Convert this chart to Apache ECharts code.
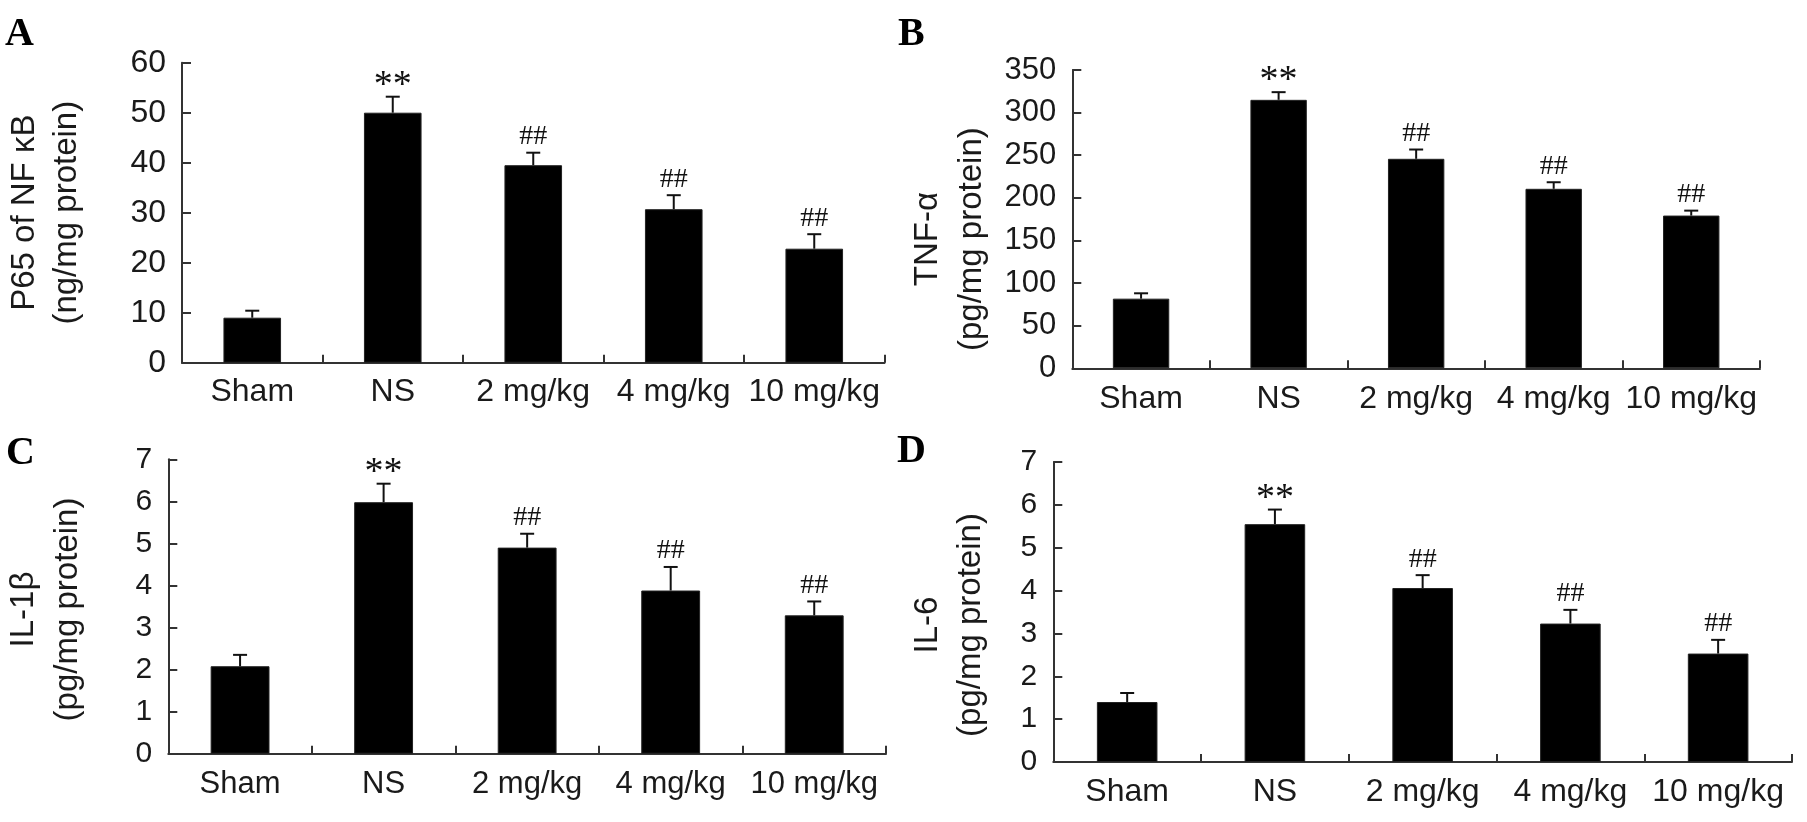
<!DOCTYPE html>
<html>
<head>
<meta charset="utf-8">
<script src="https://cdn.jsdelivr.net/npm/echarts@6/dist/echarts.min.js"></script>
<style>
html,body{margin:0;padding:0;background:#fff;}
#chart{width:1807px;height:822px;}
</style>
</head>
<body>
<div id="chart"></div>
<script>
// ---- data ----
const categories = ['Sham', 'NS', '2 mg/kg', '4 mg/kg', '10 mg/kg'];
const marks = ['', '**', '##', '##', '##'];

const p65Mean = [9.0, 50.0, 39.5, 30.7, 22.8];
const p65Err  = [1.4, 3.2, 2.5, 2.8, 2.9];

const tnfMean = [81.7, 315, 245.8, 210.6, 179.2];
const tnfErr  = [6.3, 9, 10.9, 7.7, 5.8];

const il1bMean = [2.08, 5.98, 4.90, 3.88, 3.29];
const il1bErr  = [0.27, 0.44, 0.33, 0.56, 0.33];

const il6Mean = [1.40, 5.55, 4.06, 3.23, 2.53];
const il6Err  = [0.21, 0.34, 0.30, 0.32, 0.32];

const yNames = ['P65 of NF \u03baB\n(ng/mg protein)', 'TNF-\u03b1\n(pg/mg protein)', 'IL-1\u03b2\n(pg/mg protein)', 'IL-6\n(pg/mg protein)'];
const yMax = [60, 350, 7, 7];
const yInterval = [10, 50, 1, 1];
const panelLetters = ['A', 'B', 'C', 'D'];

// ---- layout ----
const FONT = "'Liberation Sans', Arial, sans-serif";
const panels = [
  {means: p65Mean, errs: p65Err, grid: {left: 182, top: 62.7, width: 702.5, height: 300}, tickFont: 32, catFont: 32, catMargin: 13, nameGap: 94, nameLH: 42, namePad: [0, 0, 0, 0], letter: {x: 5, y: 35}},
  {means: tnfMean, errs: tnfErr, grid: {left: 1072.3, top: 70, width: 687.7, height: 298.3}, tickFont: 31, catFont: 32, catMargin: 15, nameGap: 78, nameLH: 44, namePad: [0, 40, 0, 0], letter: {x: 898, y: 35}},
  {means: il1bMean, errs: il1bErr, grid: {left: 168.3, top: 459.3, width: 717.7, height: 294.4}, tickFont: 30, catFont: 31, catMargin: 15, nameGap: 78, nameLH: 44, namePad: [0, 6, 0, 0], letter: {x: 6, y: 454}},
  {means: il6Mean, errs: il6Err, grid: {left: 1053.3, top: 462, width: 738.7, height: 300}, tickFont: 30, catFont: 32, catMargin: 14, nameGap: 61, nameLH: 43, namePad: [0, 26, 0, 0], letter: {x: 897, y: 452}}
];

function makeRender(panelIdx) {
  return function (params, api) {
    const i = api.value(0);
    const mean = api.value(1);
    const hi = api.value(2);
    const base = api.coord([i, mean]);
    const top = api.coord([i, hi]);
    const cap = 7;
    const mk = marks[params.dataIndex];
    const children = [
      {type: 'line', shape: {x1: base[0], y1: base[1], x2: top[0], y2: top[1]}, style: {stroke: '#111', lineWidth: 2}},
      {type: 'line', shape: {x1: top[0] - cap, y1: top[1], x2: top[0] + cap, y2: top[1]}, style: {stroke: '#111', lineWidth: 2}}
    ];
    if (mk) {
      const isStar = mk === '**';
      children.push({
        type: 'text',
        x: top[0],
        y: top[1] - (isStar ? 11 : 16),
        style: {
          text: mk,
          font: isStar ? "38px 'Liberation Serif', 'Times New Roman', serif" : "28px 'Liberation Serif', 'Times New Roman', serif",
          fill: '#111',
          align: 'center',
          verticalAlign: 'middle'
        }
      });
    }
    return {type: 'group', children: children};
  };
}

const option = {
  backgroundColor: '#fff',
  animation: false,
  grid: panels.map(p => Object.assign({containLabel: false}, p.grid)),
  xAxis: panels.map((p, k) => ({
    type: 'category',
    gridIndex: k,
    data: categories,
    boundaryGap: true,
    axisLine: {show: true, lineStyle: {color: '#333', width: 2}},
    axisTick: {show: true, inside: true, length: 8, lineStyle: {color: '#333', width: 2}},
    axisLabel: {color: '#1a1a1a', fontSize: p.catFont, fontFamily: FONT, margin: p.catMargin, interval: 0},
    splitLine: {show: false}
  })),
  yAxis: panels.map((p, k) => ({
    type: 'value',
    gridIndex: k,
    min: 0,
    max: yMax[k],
    interval: yInterval[k],
    name: yNames[k],
    nameLocation: 'middle',
    nameRotate: 90,
    nameGap: p.nameGap,
    nameTextStyle: {color: '#1a1a1a', fontSize: 33, fontFamily: FONT, lineHeight: p.nameLH, padding: p.namePad},
    axisLine: {show: true, lineStyle: {color: '#333', width: 2}},
    axisTick: {show: true, inside: true, length: 9, lineStyle: {color: '#333', width: 2}},
    axisLabel: {color: '#1a1a1a', fontSize: p.tickFont, fontFamily: FONT, margin: 16},
    splitLine: {show: false}
  })),
  series: [].concat(...panels.map((p, k) => [
    {
      type: 'bar',
      xAxisIndex: k,
      yAxisIndex: k,
      data: p.means,
      barWidth: '41%',
      itemStyle: {color: '#000', borderColor: '#222', borderWidth: 1}
    },
    {
      type: 'custom',
      xAxisIndex: k,
      yAxisIndex: k,
      renderItem: makeRender(k),
      data: p.means.map((m, i) => [i, m, +(m + p.errs[i]).toFixed(3)]),
      z: 5
    }
  ])),
  graphic: panels.map((p, k) => ({
    type: 'text',
    x: p.letter.x,
    y: p.letter.y,
    style: {
      text: panelLetters[k],
      font: "bold 40px 'Liberation Serif', 'Times New Roman', serif",
      fill: '#000',
      align: 'left',
      verticalAlign: 'middle'
    }
  }))
};

const chart = echarts.init(document.getElementById('chart'), null, {renderer: 'canvas'});
chart.setOption(option);
</script>
</body>
</html>
